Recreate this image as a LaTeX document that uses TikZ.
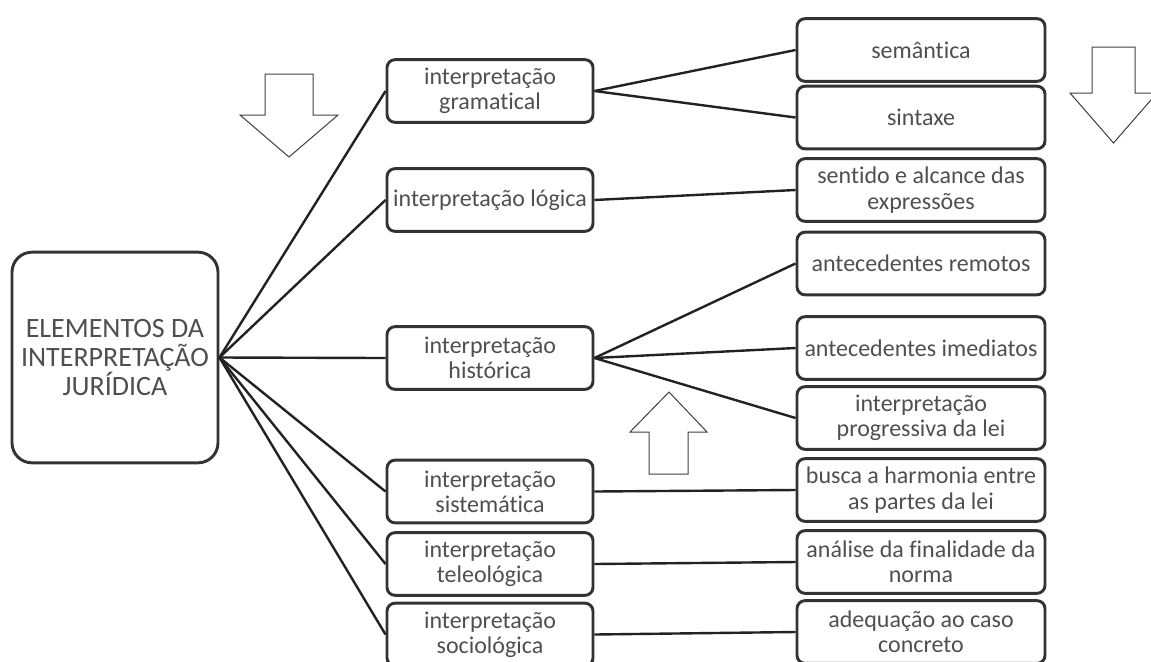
\documentclass[tikz,border=0pt]{standalone}
\usepackage{fontspec}
\setmainfont[Ligatures={NoCommon}]{Carlito}
\usepackage{tikz}

\definecolor{boxline}{HTML}{333333}
\definecolor{textgray}{HTML}{4F4F4F}
\definecolor{linkcol}{HTML}{222222}
\definecolor{arrowline}{HTML}{404040}

\begin{document}
\begin{tikzpicture}[x=0.75pt, y=-0.75pt,
			box/.style={
				draw=boxline,
				line width=2.2pt,
				rounded corners=6pt,
				text=textgray,
				align=center,
				inner sep=0pt,
				font=\fontsize{18}{19}\selectfont},
			midbox/.style={box, minimum width=154.5pt, minimum height=47pt},
			leafbox/.style={box, minimum width=186pt, minimum height=47pt},
			rootbox/.style={box, rounded corners=15pt,
				minimum width=154.5pt, minimum height=158pt,
				font=\fontsize{21}{22}\selectfont},
			link/.style={draw=linkcol, line width=1.8pt},
			hollow/.style={draw=arrowline, line width=0.75pt, fill=white}]
			\useasboundingbox (0, 0) rectangle (1151, 661);
			\clip (0, 0) rectangle (1151, 661);
			\node (root) at (115, 357.5) [rootbox] {ELEMENTOS DA\\INTERPRETAÇÃO\\JURÍDICA};
			\node (gram) at (490, 91) [midbox] {interpretação\\gramatical};
			\node (logi) at (490, 200) [midbox] {interpretação lógica};
			\node (hist) at (490, 358) [midbox] {interpretação\\histórica};
			\node (sist) at (490, 491.5) [midbox] {interpretação\\sistemática};
			\node (tele) at (490, 564) [midbox] {interpretação\\teleológica};
			\node (soci) at (490, 634.5) [midbox] {interpretação\\sociológica};
			\node (sem) at (921, 50) [leafbox] {semântica};
			\node (sin) at (921, 117.5) [leafbox] {sintaxe};
			\node (sen) at (921, 190) [leafbox] {sentido e alcance das\\expressões};
			\node (rem) at (921, 263.5) [leafbox] {antecedentes remotos};
			\node (ime) at (921, 348) [leafbox] {antecedentes imediatos};
			\node (pro) at (921, 418) [leafbox] {interpretação\\progressiva da lei};
			\node (bus) at (921, 490) [leafbox] {busca a harmonia entre\\as partes da lei};
			\node (ana) at (921, 562) [leafbox] {análise da finalidade da\\norma};
			\node (ade) at (921, 632) [leafbox] {adequação ao caso\\concreto};
			\foreach \m in {gram, logi, hist, sist, tele, soci}
				\draw[link] (root.east) -- (\m.west);
			\draw[link] (gram.east) -- (sem.west);
			\draw[link] (gram.east) -- (sin.west);
			\draw[link] (logi.east) -- (sen.west);
			\draw[link] (hist.east) -- (rem.west);
			\draw[link] (hist.east) -- (ime.west);
			\draw[link] (hist.east) -- (pro.west);
			\draw[link] (sist.east) -- (bus.west);
			\draw[link] (tele.east) -- (ana.west);
			\draw[link] (soci.east) -- (ade.west);
			% hollow block arrows
			\draw[hollow] (265, 74) -- (313, 74) -- (313, 115) -- (338, 115)
				-- (289, 157) -- (240, 115) -- (265, 115) -- cycle;
			\draw[hollow] (1092, 47) -- (1135, 47) -- (1135, 93) -- (1157, 93)
				-- (1113.5, 143) -- (1070, 93) -- (1092, 93) -- cycle;
			\draw[hollow] (649, 474) -- (688, 474) -- (688, 432) -- (707, 432)
				-- (669, 392) -- (630, 432) -- (649, 432) -- cycle;
			\end{tikzpicture}
\end{document}
